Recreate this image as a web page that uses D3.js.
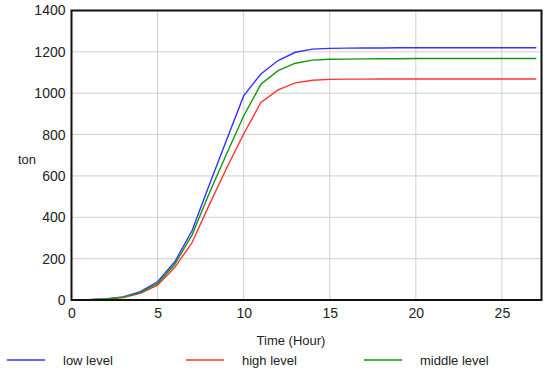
<!DOCTYPE html>
<html>
<head>
<meta charset="utf-8">
<script src="https://cdn.jsdelivr.net/npm/d3@7"></script>
<style>
  body { margin: 0; background: #fff; }
  text { font-family: "Liberation Sans", Arial, sans-serif; fill: #222; }
</style>
</head>
<body>
<div id="chart"></div>
<script>
const hours = [0,1,2,3,4,5,6,7,8,9,10,11,12,13,14,15,16,17,18,19,20,21,22,23,24,25,26,27];
const lowLevel = [0,2,5,15,40,88,185,335,556,772,987,1093,1158,1198,1213,1217,1218,1219,1219,1220,1220,1220,1220,1220,1220,1220,1220,1220];
const highLevel = [0,1,4,12,32,72,158,277,460,636,803,955,1016,1050,1063,1067,1068,1068,1069,1069,1069,1069,1069,1069,1069,1069,1069,1069];
const middleLevel = [0,2,5,14,36,80,173,314,516,705,890,1043,1109,1145,1160,1164,1165,1166,1167,1167,1168,1168,1168,1168,1168,1168,1168,1168];
const xTicks = [0,5,10,15,20,25];
const yTicks = [0,200,400,600,800,1000,1200,1400];

const series = [
  { name: 'low level', values: lowLevel, color: '#3333ff', lx: 7 },
  { name: 'high level', values: highLevel, color: '#ff3333', lx: 186 },
  { name: 'middle level', values: middleLevel, color: '#119911', lx: 364 }
];

const W = 550, H = 373;
const svg = d3.select('#chart').append('svg')
  .attr('width', W)
  .attr('height', H);

const x = d3.scaleLinear().domain([0, 27.3]).range([71.5, 541.5]);
const y = d3.scaleLinear().domain([0, 1400]).range([300, 10.5]);

// grid
svg.append('g')
  .selectAll('line')
  .data(xTicks.slice(1))
  .enter().append('line')
  .attr('x1', d => x(d)).attr('x2', d => x(d))
  .attr('y1', y(1400)).attr('y2', y(0))
  .attr('stroke', '#cfcfcf').attr('stroke-width', 1);
svg.append('g')
  .selectAll('line')
  .data(yTicks.slice(1))
  .enter().append('line')
  .attr('x1', x(0)).attr('x2', x(27.3))
  .attr('y1', d => y(d)).attr('y2', d => y(d))
  .attr('stroke', '#cfcfcf').attr('stroke-width', 1);

// lines
const line = d3.line()
  .x((d, i) => x(hours[i]))
  .y(d => y(d));

series.forEach(s => {
  svg.append('path')
    .datum(s.values)
    .attr('fill', 'none')
    .attr('stroke', s.color)
    .attr('stroke-width', 1.4)
    .attr('d', line);
});

// frame
svg.append('rect')
  .attr('x', x(0)).attr('y', y(1400))
  .attr('width', x(27.3) - x(0)).attr('height', y(0) - y(1400))
  .attr('fill', 'none')
  .attr('stroke', '#111')
  .attr('stroke-width', 2);

// axes labels
const xAxis = d3.axisBottom(x).tickValues(xTicks).tickFormat(d3.format('d')).tickSize(0).tickPadding(8);
const gx = svg.append('g').attr('transform', 'translate(0,' + y(0) + ')').call(xAxis);
gx.select('.domain').remove();
gx.selectAll('text').style('font-size', '14px').attr('fill', '#222');

const yAxis = d3.axisLeft(y).tickValues(yTicks).tickFormat(d3.format('d')).tickSize(0).tickPadding(6);
const gy = svg.append('g').attr('transform', 'translate(' + x(0) + ',0)').call(yAxis);
gy.select('.domain').remove();
gy.selectAll('text').style('font-size', '14px').attr('fill', '#222');

svg.append('text')
  .attr('x', 291).attr('y', 345)
  .attr('text-anchor', 'middle')
  .style('font-size', '13px')
  .text('Time (Hour)');

svg.append('text')
  .attr('x', 27).attr('y', 164)
  .attr('text-anchor', 'middle')
  .style('font-size', '13px')
  .text('ton');

// legend
const lg = svg.append('g');
series.forEach(s => {
  lg.append('line')
    .attr('x1', s.lx).attr('x2', s.lx + 38)
    .attr('y1', 360).attr('y2', 360)
    .attr('stroke', s.color).attr('stroke-width', 1.5);
  lg.append('text')
    .attr('x', s.lx + 56).attr('y', 365)
    .style('font-size', '13px')
    .text(s.name);
});
</script>
</body>
</html>
